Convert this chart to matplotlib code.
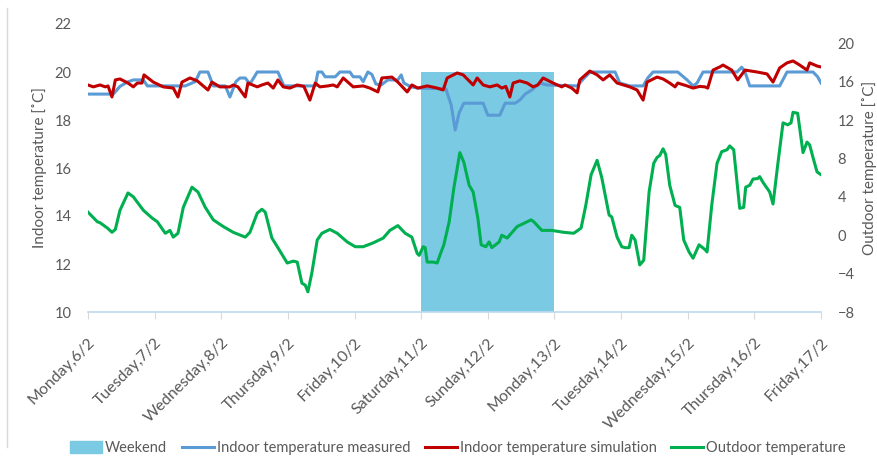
import matplotlib
matplotlib.use("Agg")
import matplotlib.pyplot as plt
from matplotlib.lines import Line2D
from matplotlib.patches import Patch
from matplotlib.transforms import ScaledTranslation

plt.rcParams['font.family'] = ['Lato', 'DejaVu Sans']

day_labels = ["Monday,6/2", "Tuesday,7/2", "Wednesday,8/2", "Thursday,9/2", "Friday,10/2",
              "Saturday,11/2", "Sunday,12/2", "Monday,13/2", "Tuesday,14/2", "Wednesday,15/2",
              "Thursday,16/2", "Friday,17/2"]

weekend_start = 5.0
weekend_end = 7.0
weekend_top = 20.0

# Indoor temperature measured (time in days, value in degC)
meas_t = [0, 0.38, 0.48, 0.59, 0.68, 0.83, 0.89, 1.46, 1.61, 1.68, 1.80, 1.88, 2.06, 2.13, 2.22,
          2.28, 2.36, 2.43, 2.54, 2.85, 2.94, 3.41, 3.45, 3.51, 3.56, 3.71, 3.78, 3.93, 3.98, 4.08,
          4.13, 4.20, 4.26, 4.32, 4.40, 4.50, 4.65, 4.70, 4.74, 4.85, 4.95, 5.37, 5.45, 5.51, 5.57,
          5.64, 5.93, 6.00, 6.18, 6.26, 6.41, 6.48, 6.56, 6.66, 6.78, 6.89, 7.34, 7.43, 7.52, 7.58,
          7.91, 7.98, 8.13, 8.33, 8.40, 8.48, 8.85, 8.99, 9.08, 9.14, 9.23, 9.74, 9.81, 9.86, 9.93,
          10.38, 10.49, 10.88, 10.95, 11.0]
meas_v = [19.08, 19.08, 19.4, 19.58, 19.67, 19.67, 19.42, 19.42, 19.6, 20.0, 20.0, 19.42, 19.42, 18.96, 19.6,
          19.75, 19.75, 19.5, 20.0, 20.0, 19.42, 19.42, 20.0, 20.0, 19.8, 19.8, 20.0, 20.0, 19.8, 19.8,
          19.6, 20.0, 19.9, 19.5, 19.46, 19.67, 19.67, 19.88, 19.54, 19.38, 19.33, 19.3, 18.63, 17.58, 18.3,
          18.7, 18.7, 18.2, 18.2, 18.7, 18.7, 18.83, 19.08, 19.25, 19.54, 19.46, 19.42, 19.7, 19.96, 20.0,
          20.0, 19.54, 19.42, 19.42, 19.75, 20.0, 20.0, 19.67, 19.42, 19.54, 20.0, 20.0, 20.2, 20.0, 19.42,
          19.42, 20.0, 20.0, 19.8, 19.54]

# Indoor temperature simulation
sim_t = [0, 0.08, 0.18, 0.26, 0.30, 0.36, 0.41, 0.48, 0.60, 0.68, 0.74, 0.81, 0.84, 0.98, 1.13,
         1.28, 1.35, 1.41, 1.53, 1.64, 1.80, 1.86, 1.98, 2.13, 2.18, 2.25, 2.36, 2.40, 2.54, 2.61,
         2.70, 2.78, 2.85, 2.93, 3.03, 3.14, 3.24, 3.33, 3.41, 3.48, 3.60, 3.68, 3.74, 3.83, 3.98,
         4.13, 4.23, 4.35, 4.41, 4.56, 4.65, 4.79, 4.86, 4.95, 5.09, 5.16, 5.24, 5.33, 5.39, 5.54,
         5.63, 5.78, 5.84, 5.93, 6.03, 6.14, 6.21, 6.27, 6.33, 6.38, 6.48, 6.59, 6.68, 6.75, 6.83,
         6.98, 7.11, 7.16, 7.26, 7.34, 7.38, 7.53, 7.64, 7.73, 7.83, 7.94, 8.13, 8.24, 8.33, 8.39,
         8.54, 8.63, 8.73, 8.81, 8.85, 8.99, 9.08, 9.18, 9.26, 9.30, 9.38, 9.48, 9.53, 9.66, 9.75,
         9.86, 10.04, 10.19, 10.28, 10.38, 10.49, 10.58, 10.68, 10.79, 10.83, 10.94, 11.0]
sim_v = [19.46, 19.38, 19.46, 19.38, 19.42, 18.96, 19.67, 19.71, 19.54, 19.38, 19.54, 19.54, 19.88, 19.58, 19.38,
         19.33, 18.96, 19.58, 19.75, 19.63, 19.25, 19.58, 19.38, 19.38, 19.46, 19.38, 18.96, 19.54, 19.38, 19.46,
         19.54, 19.33, 19.67, 19.38, 19.33, 19.46, 19.4, 18.83, 19.54, 19.38, 19.42, 19.46, 19.38, 19.75, 19.38,
         19.42, 19.33, 19.17, 19.75, 19.79, 19.58, 19.17, 19.46, 19.33, 19.42, 19.38, 19.33, 19.25, 19.75, 19.96,
         19.88, 19.46, 19.75, 19.46, 19.38, 19.46, 19.33, 19.4, 18.96, 19.54, 19.63, 19.54, 19.38, 19.46, 19.75,
         19.54, 19.38, 19.46, 19.33, 19.13, 19.67, 20.04, 19.88, 19.67, 19.88, 19.54, 19.38, 19.25, 18.83, 19.58,
         19.79, 19.71, 19.54, 19.38, 19.54, 19.42, 19.33, 19.4, 19.38, 19.33, 20.08, 20.21, 20.29, 20.08, 19.67,
         20.08, 20.0, 19.92, 19.58, 20.17, 20.38, 20.46, 20.29, 20.08, 20.38, 20.25, 20.21]

# Outdoor temperature
out_t = [0, 0.14, 0.18, 0.29, 0.36, 0.41, 0.48, 0.60, 0.68, 0.83, 0.96, 1.04, 1.16, 1.23, 1.28,
         1.35, 1.43, 1.56, 1.65, 1.76, 1.88, 2.03, 2.18, 2.36, 2.43, 2.54, 2.61, 2.66, 2.76, 2.85,
         2.99, 3.08, 3.14, 3.21, 3.26, 3.30, 3.36, 3.44, 3.51, 3.63, 3.74, 3.89, 4.01, 4.13, 4.28,
         4.43, 4.53, 4.65, 4.76, 4.86, 4.94, 4.97, 5.03, 5.06, 5.09, 5.18, 5.24, 5.28, 5.34, 5.42,
         5.49, 5.58, 5.64, 5.72, 5.78, 5.85, 5.90, 5.97, 6.02, 6.06, 6.17, 6.21, 6.29, 6.44, 6.65,
         6.69, 6.81, 6.96, 7.14, 7.29, 7.40, 7.47, 7.55, 7.64, 7.71, 7.82, 7.86, 7.94, 8.01, 8.06,
         8.12, 8.16, 8.21, 8.28, 8.34, 8.42, 8.49, 8.54, 8.58, 8.63, 8.67, 8.73, 8.81, 8.88, 8.94,
         9.02, 9.08, 9.17, 9.26, 9.29, 9.36, 9.44, 9.51, 9.59, 9.63, 9.69, 9.78, 9.84, 9.87, 9.93,
         9.98, 10.05, 10.08, 10.13, 10.19, 10.23, 10.28, 10.35, 10.43, 10.50, 10.55, 10.58, 10.65, 10.73, 10.79,
         10.83, 10.88, 10.94, 11.0]
out_v = [2.4, 1.4, 1.3, 0.75, 0.3, 0.6, 2.6, 4.4, 4.0, 2.6, 1.8, 1.4, 0.2, 0.5, -0.2,
         0.2, 2.9, 5.0, 4.5, 2.9, 1.6, 0.9, 0.3, -0.2, 0.3, 2.3, 2.7, 2.4, -0.3, -1.3,
         -2.9, -2.7, -2.8, -5.0, -5.2, -5.9, -3.9, -0.5, 0.2, 0.6, 0.2, -0.7, -1.2, -1.2, -0.8,
         -0.3, 0.5, 1.0, 0.2, -0.2, -1.9, -2.1, -1.2, -1.3, -2.8, -2.8, -2.9, -2.1, -1.0, 1.4,
         4.9, 8.6, 7.6, 5.2, 4.5, 1.8, -1.0, -1.2, -0.7, -1.3, -0.7, 0.0, -0.3, 0.9, 1.6,
         1.4, 0.5, 0.5, 0.3, 0.2, 0.75, 3.1, 6.3, 7.8, 6.0, 2.1, 1.9, -0.2, -1.2, -1.3,
         -1.3, 0.0, -0.5, -3.1, -2.6, 4.5, 7.5, 8.1, 8.3, 9.0, 8.4, 5.2, 3.1, 2.9, -0.5,
         -1.75, -2.4, -1.0, -1.5, -1.75, 3.1, 7.5, 8.7, 8.9, 9.3, 8.9, 2.8, 2.9, 5.0, 5.2,
         5.85, 5.9, 6.1, 5.5, 4.9, 4.5, 3.25, 7.3, 11.7, 11.5, 11.7, 12.8, 12.7, 8.6, 9.7,
         9.4, 8.1, 6.6, 6.3]

grey = '#595959'
fig = plt.figure(figsize=(8.77, 4.66), dpi=100)
ax = fig.add_axes([88/877, 1-312/466, (821-88)/877, (312-24)/466])
ax2 = ax.twinx()

ax.bar([weekend_start], [weekend_top - 10], width=weekend_end - weekend_start, bottom=10,
       align='edge', color='#7ACAE3', zorder=1)
ax.plot(meas_t, meas_v, color='#5B9BD5', lw=2.2, zorder=2, solid_joinstyle='round')
ax.plot(sim_t, sim_v, color='#C00000', lw=2.2, zorder=3, solid_joinstyle='round')
ax2.plot(out_t, out_v, color='#00B050', lw=2.2, solid_joinstyle='round')

ax.set_xlim(0, 11)
ax.set_ylim(10, 22)
ax.set_yticks(range(10, 23, 2))
ax2.set_ylim(-8, 22)
ax2.set_yticks(range(-8, 21, 4))

ax.set_xticks(range(12))
ax.set_xticklabels(day_labels, rotation=45, ha='right', va='top', rotation_mode='anchor')
shift = ScaledTranslation(5/100, 0, fig.dpi_scale_trans)
for lbl in ax.get_xticklabels():
    lbl.set_transform(lbl.get_transform() + shift)

for a in (ax, ax2):
    for s in ('top', 'left', 'right', 'bottom'):
        a.spines[s].set_visible(False)
ax.spines['bottom'].set_visible(True)
ax.spines['bottom'].set_color('#BFD9EC')
ax.spines['bottom'].set_linewidth(1.2)

ax.tick_params(axis='y', length=0, pad=12, labelsize=10.5, labelcolor=grey)
ax2.tick_params(axis='y', length=0, pad=12, labelsize=10.5, labelcolor=grey)
ax.tick_params(axis='x', length=5, width=0.8, color='#D9D9D9', pad=12, labelsize=11.5, labelcolor=grey)

ax.set_ylabel('Indoor temperature [˚C]', fontsize=11, color=grey, labelpad=5)
ax2.set_ylabel('Outdoor temperature [˚C]', fontsize=11, color=grey, rotation=90, labelpad=5)

handles = [Patch(color='#7ACAE3'),
           Line2D([], [], color='#5B9BD5', lw=2.2),
           Line2D([], [], color='#C00000', lw=2.2),
           Line2D([], [], color='#00B050', lw=2.2)]
labels = ['Weekend', 'Indoor temperature measured', 'Indoor temperature simulation', 'Outdoor temperature']
leg = fig.legend(handles, labels, loc='center', bbox_to_anchor=(458/877, 1-448/466), ncol=4,
                 frameon=False, fontsize=10.5, handlelength=2.2, handletextpad=0.2, columnspacing=1.0,
                 handleheight=0.9)
for t in leg.get_texts():
    t.set_color(grey)

fig.add_artist(Line2D([7/877, 7/877], [1-8/466, 1-447/466], color='#D9D9D9', lw=1))

fig.savefig('out.png', dpi=100)
